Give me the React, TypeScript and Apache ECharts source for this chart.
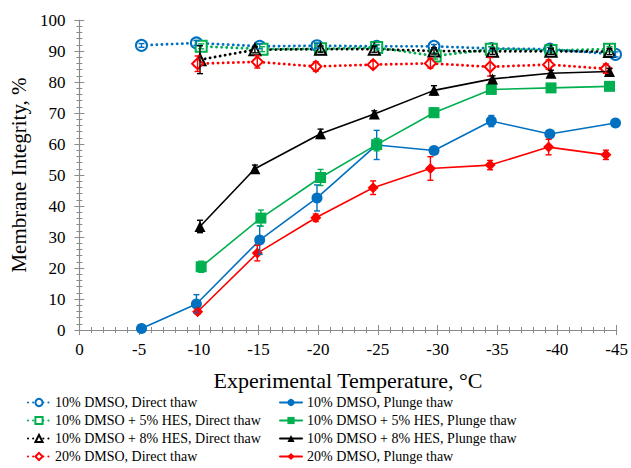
import React, { useEffect, useRef } from "react";
import * as echarts from "echarts";

// ---- Data ----
const xBlue = [-5.2, -9.8, -15.1, -19.9, -24.9, -29.7, -34.5, -39.4, -44.9];
const yBlueDirect = [91.8, 92.6, 91.5, 91.7, 91.5, 91.5, 90.8, 90.6, 88.9];
const eBlueDirect = [0.6, 0.8, 0.8, 0.8, 0.6, 0.6, 0.6, 0.6, 0.8];
const yBluePlunge = [0.5, 8.4, 29.0, 42.6, 59.7, 57.9, 67.4, 63.2, 66.8];
const eBluePlunge = [0.5, 3.0, 4.6, 4.2, 4.7, 1.0, 1.8, 1.0, 1.0];

const xGreenDirect = [-10.2, -15.3, -20.2, -24.9, -29.8, -34.5, -39.5, -44.4];
const yGreenDirect = [91.5, 90.6, 90.7, 91.1, 88.4, 90.6, 90.2, 90.6];
const eGreenDirect = [0.8, 0.8, 0.8, 0.8, 1.0, 0.8, 0.8, 0.8];
const xGreenPlunge = [-10.2, -15.2, -20.2, -24.9, -29.7, -34.5, -39.5, -44.4];
const yGreenPlunge = [20.4, 36.1, 49.2, 59.8, 70.1, 77.6, 78.1, 78.6];
const eGreenPlunge = [1.8, 2.6, 2.6, 2.0, 1.5, 1.0, 1.0, 1.0];

const xBlack = [-10.1, -14.7, -20.2, -24.7, -29.7, -34.6, -39.5, -44.4];
const yBlackDirect = [87.2, 90.4, 90.6, 90.6, 90.0, 89.9, 89.9, 89.8];
const eBlackDirect = [4.5, 1.0, 1.0, 1.0, 1.0, 1.0, 1.0, 1.0];
const yBlackPlunge = [33.4, 52.0, 63.3, 69.7, 77.3, 81.0, 82.8, 83.4];
const eBlackPlunge = [2.0, 1.2, 1.5, 1.0, 1.5, 1.0, 1.0, 1.0];

const xRed = [-9.9, -14.9, -19.8, -24.6, -29.4, -34.4, -39.3, -44.1];
const yRedDirect = [85.9, 86.5, 85.0, 85.6, 86.0, 84.9, 85.6, 84.3];
const eRedDirect = [2.5, 2.0, 1.5, 1.2, 1.5, 3.0, 1.5, 1.5];
const yRedPlunge = [5.9, 24.8, 36.2, 45.9, 52.1, 53.2, 59.0, 56.5];
const eRedPlunge = [0.8, 2.5, 1.2, 2.2, 3.8, 1.5, 2.5, 1.5];

const xTicks = [0, -5, -10, -15, -20, -25, -30, -35, -40, -45];

const BLUE = "#0070C0";
const GREEN = "#00B050";
const BLACK = "#000000";
const RED = "#FF0000";
const FONT = "Liberation Serif";

const zip = (xs: number[], ys: number[], es?: number[]) =>
  xs.map((x, i) => (es ? [x, ys[i], es[i]] : [x, ys[i]]));

function lineSeries(name: string, color: string, xs: number[], ys: number[], symbol: string, dotted: boolean) {
  return {
    name,
    type: "line",
    data: zip(xs, ys),
    symbol,
    symbolSize: dotted ? 11 : 11,
    showSymbol: true,
    lineStyle: { color, width: dotted ? 2.8 : 1.6, type: dotted ? [0.1, 5] : "solid", cap: "round" },
    itemStyle: { color, borderColor: color, borderWidth: dotted ? 1.6 : 0 },
    z: dotted ? 3 : 4,
  };
}

function errorSeries(color: string, xs: number[], ys: number[], es: number[]) {
  return {
    type: "custom",
    data: zip(xs, ys, es),
    encode: { x: 0, y: 1 },
    z: 5,
    silent: true,
    renderItem: (params: any, api: any) => {
      const x = api.value(0);
      const y = api.value(1);
      const e = api.value(2);
      const top = api.coord([x, y + e]);
      const bot = api.coord([x, y - e]);
      const c = 3;
      const st = { stroke: color, lineWidth: 1.4 };
      return {
        type: "group",
        children: [
          { type: "line", shape: { x1: top[0], y1: top[1], x2: bot[0], y2: bot[1] }, style: st },
          { type: "line", shape: { x1: top[0] - c, y1: top[1], x2: top[0] + c, y2: top[1] }, style: st },
          { type: "line", shape: { x1: bot[0] - c, y1: bot[1], x2: bot[0] + c, y2: bot[1] }, style: st },
        ],
      };
    },
  };
}

const N_BD = "10% DMSO, Direct thaw";
const N_GD = "10% DMSO + 5% HES, Direct thaw";
const N_KD = "10% DMSO + 8% HES, Direct thaw";
const N_RD = "20% DMSO, Direct thaw";
const N_BP = "10% DMSO, Plunge thaw";
const N_GP = "10% DMSO + 5% HES, Plunge thaw";
const N_KP = "10% DMSO + 8% HES, Plunge thaw";
const N_RP = "20% DMSO, Plunge thaw";

export default function App() {
  const ref = useRef<HTMLDivElement>(null);
  useEffect(() => {
    if (!ref.current) return;
    const chart = echarts.init(ref.current, null, { renderer: "svg" });
    const axisColor = "#8c8c8c";
    const xBase = {
      type: "value",
      min: -45,
      max: 0,
      interval: 5,
      inverse: true,
      gridIndex: 0,
      position: "bottom",
      splitLine: { show: false },
    };
    const yBase = {
      type: "value",
      min: 0,
      max: 100,
      interval: 10,
      gridIndex: 0,
      position: "left",
      splitLine: { show: false },
    };
    const legendText = { fontFamily: FONT, fontSize: 14, color: "#000", lineHeight: 17 };
    const legendBase = {
      orient: "vertical",
      top: 394,
      padding: 0,
      itemGap: 1,
      itemWidth: 22,
      itemHeight: 9,
      height: 74,
      textStyle: legendText,
      selectedMode: false,
    };
    chart.setOption({
      animation: false,
      backgroundColor: "#fff",
      grid: { left: 77, right: 11, top: 20, bottom: 138 },
      legend: [
        { ...legendBase, data: [N_BD, N_GD, N_KD, N_RD], left: 27 },
        { ...legendBase, data: [N_BP, N_GP, N_KP, N_RP], left: 279 },
      ],
      xAxis: [
        {
          ...xBase,
          name: "Experimental Temperature, °C",
          nameLocation: "middle",
          nameGap: 39,
          nameTextStyle: { fontFamily: FONT, fontSize: 22, color: "#000" },
          axisLine: { show: true, lineStyle: { color: axisColor, width: 1.2 } },
          axisTick: { show: true, inside: false, length: 5, lineStyle: { color: axisColor } },
          minorTick: { show: true, splitNumber: 5, length: 3, lineStyle: { color: axisColor } },
          axisLabel: {
            fontFamily: FONT,
            fontSize: 17,
            color: "#000",
            margin: 11,
            formatter: (v: number) => (xTicks.includes(v) ? String(v) : ""),
          },
        },
        {
          ...xBase,
          axisLine: { show: false },
          axisTick: { show: true, inside: true, length: 5, lineStyle: { color: axisColor } },
          minorTick: { show: true, splitNumber: 5, length: 3, lineStyle: { color: axisColor } },
          axisLabel: { show: false },
        },
      ],
      yAxis: [
        {
          ...yBase,
          name: "Membrane Integrity, %",
          nameLocation: "middle",
          nameGap: 48,
          nameTextStyle: { fontFamily: FONT, fontSize: 21, color: "#000" },
          axisLine: { show: true, lineStyle: { color: axisColor, width: 1.2 } },
          axisTick: { show: true, inside: false, length: 5, lineStyle: { color: axisColor } },
          minorTick: { show: true, splitNumber: 5, length: 3, lineStyle: { color: axisColor } },
          axisLabel: { fontFamily: FONT, fontSize: 17, color: "#000", margin: 14 },
        },
        {
          ...yBase,
          axisLine: { show: false },
          axisTick: { show: true, inside: true, length: 5, lineStyle: { color: axisColor } },
          minorTick: { show: true, splitNumber: 5, length: 3, lineStyle: { color: axisColor } },
          axisLabel: { show: false },
        },
      ],
      series: [
        lineSeries(N_BD, BLUE, xBlue, yBlueDirect, "emptyCircle", true),
        lineSeries(N_GD, GREEN, xGreenDirect, yGreenDirect, "emptyRect", true),
        lineSeries(N_KD, BLACK, xBlack, yBlackDirect, "emptyTriangle", true),
        lineSeries(N_RD, RED, xRed, yRedDirect, "emptyDiamond", true),
        lineSeries(N_BP, BLUE, xBlue, yBluePlunge, "circle", false),
        lineSeries(N_GP, GREEN, xGreenPlunge, yGreenPlunge, "rect", false),
        lineSeries(N_KP, BLACK, xBlack, yBlackPlunge, "triangle", false),
        lineSeries(N_RP, RED, xRed, yRedPlunge, "diamond", false),
        errorSeries(BLUE, xBlue, yBlueDirect, eBlueDirect),
        errorSeries(GREEN, xGreenDirect, yGreenDirect, eGreenDirect),
        errorSeries(BLACK, xBlack, yBlackDirect, eBlackDirect),
        errorSeries(RED, xRed, yRedDirect, eRedDirect),
        errorSeries(BLUE, xBlue, yBluePlunge, eBluePlunge),
        errorSeries(GREEN, xGreenPlunge, yGreenPlunge, eGreenPlunge),
        errorSeries(BLACK, xBlack, yBlackPlunge, eBlackPlunge),
        errorSeries(RED, xRed, yRedPlunge, eRedPlunge),
      ],
    });
    return () => chart.dispose();
  }, []);
  return <div ref={ref} style={{ width: 631, height: 468, position: "absolute", left: 0, top: 0 }} />;
}
